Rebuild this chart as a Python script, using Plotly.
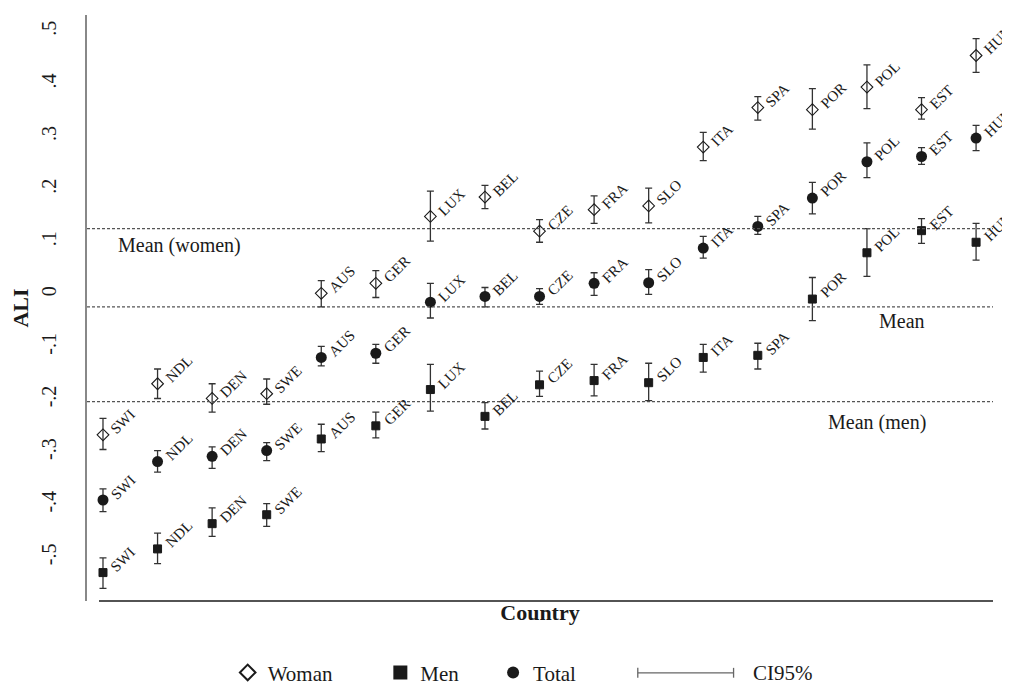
import plotly.graph_objects as go

countries = ["SWI", "NDL", "DEN", "SWE", "AUS", "GER", "LUX", "BEL", "CZE",
             "FRA", "SLO", "ITA", "SPA", "POR", "POL", "EST", "HUN"]

women = [-0.267, -0.170, -0.198, -0.189, 0.002, 0.021, 0.148, 0.185, 0.120,
         0.161, 0.168, 0.280, 0.355, 0.351, 0.394, 0.351, 0.454]
women_hi = [-0.236, -0.142, -0.170, -0.161, 0.026, 0.045, 0.196, 0.207, 0.142,
            0.187, 0.202, 0.308, 0.376, 0.391, 0.436, 0.374, 0.486]
women_lo = [-0.295, -0.198, -0.224, -0.209, -0.024, -0.006, 0.101, 0.163, 0.099,
            0.135, 0.136, 0.254, 0.331, 0.314, 0.353, 0.333, 0.422]

total = [-0.391, -0.318, -0.308, -0.297, -0.120, -0.112, -0.015, -0.004, -0.004,
         0.021, 0.022, 0.088, 0.129, 0.183, 0.252, 0.262, 0.297]
total_hi = [-0.370, -0.297, -0.290, -0.282, -0.099, -0.095, 0.021, 0.013, 0.011,
            0.041, 0.047, 0.110, 0.148, 0.213, 0.288, 0.279, 0.321]
total_lo = [-0.413, -0.338, -0.331, -0.316, -0.136, -0.131, -0.045, -0.024, -0.019,
            -0.002, 0.000, 0.069, 0.114, 0.153, 0.222, 0.247, 0.273]

men = [-0.529, -0.484, -0.436, -0.419, -0.275, -0.250, -0.181, -0.232, -0.172,
       -0.164, -0.168, -0.120, -0.116, -0.009, 0.079, 0.121, 0.099]
men_hi = [-0.501, -0.454, -0.406, -0.398, -0.247, -0.224, -0.133, -0.206, -0.146,
          -0.133, -0.131, -0.095, -0.093, 0.032, 0.125, 0.144, 0.135]
men_lo = [-0.559, -0.512, -0.460, -0.441, -0.299, -0.273, -0.222, -0.256, -0.194,
          -0.193, -0.202, -0.148, -0.142, -0.050, 0.034, 0.097, 0.065]

mean_labels = ["Mean (women)", "Mean", "Mean (men)"]
mean_values = [0.125, -0.024, -0.204]

ytick_vals = [-0.5, -0.4, -0.3, -0.2, -0.1, 0, 0.1, 0.2, 0.3, 0.4, 0.5]
ytick_text = ["-.5", "-.4", "-.3", "-.2", "-.1", "0", ".1", ".2", ".3", ".4", ".5"]

SERIF = "Liberation Serif"
INK = "#1a1a1a"
xs = list(range(1, len(countries) + 1))

# The page puts the figure 8px in from the window's top-left corner.
OFF = 8
W, H = 1010, 692
# plot area wanted in window pixels: x 85..993, y 15..611
ML, MT = 85 - OFF, 15 - OFF
MR = W - (993 - OFF)
MB = H - (611 - OFF)
PW, PH = W - ML - MR, H - MT - MB


def px(xwin):
    return (xwin - OFF - ML) / PW


def py(ywin):
    return (H - MB - (ywin - OFF)) / PH


fig = go.Figure()


def add_series(name, vals, hi, lo, symbol, size, lw, legend_id):
    fig.add_trace(go.Scatter(
        x=xs, y=vals, mode="markers", name=name, legend=legend_id,
        marker=dict(symbol=symbol, size=size, color=INK,
                    line=dict(color=INK, width=lw)),
        error_y=dict(type="data", symmetric=False,
                     array=[h - v for h, v in zip(hi, vals)],
                     arrayminus=[v - l for v, l in zip(vals, lo)],
                     color="#333333", thickness=1.3, width=3.5),
    ))


add_series("Woman", women, women_hi, women_lo, "diamond-open", 9, 1.1, "legend")
add_series("Men", men, men_hi, men_lo, "square", 8, 1, "legend2")
add_series("Total", total, total_hi, total_lo, "circle", 11, 0, "legend3")

annotations = []
for vals in (women, men, total):
    for x, v, c in zip(xs, vals, countries):
        annotations.append(dict(
            x=x, y=v, xref="x", yref="y", text=c, showarrow=False,
            textangle=-45, xanchor="left", yanchor="bottom",
            xshift=2, yshift=-5,
            font=dict(family=SERIF, size=15, color=INK)))

shapes = []
for v in mean_values:
    shapes.append(dict(type="line", xref="paper", yref="y", x0=0, x1=1,
                       y0=v, y1=v, line=dict(color="#555555", width=1.2, dash="3px,2px")))

# mean labels
annotations.append(dict(x=px(114), y=mean_values[0], xref="paper", yref="y",
                        text=mean_labels[0], showarrow=False, xanchor="left",
                        yanchor="top", yshift=-3,
                        font=dict(family=SERIF, size=20, color=INK)))
annotations.append(dict(x=px(927), y=mean_values[1], xref="paper", yref="y",
                        text=mean_labels[1], showarrow=False, xanchor="right",
                        yanchor="top", yshift=-1,
                        font=dict(family=SERIF, size=20, color=INK)))
annotations.append(dict(x=px(928), y=mean_values[2], xref="paper", yref="y",
                        text=mean_labels[2], showarrow=False, xanchor="right",
                        yanchor="top", yshift=-7,
                        font=dict(family=SERIF, size=20, color=INK)))

# x axis line (starts slightly right of the y axis)
shapes.append(dict(type="line", xref="paper", yref="paper", x0=px(97), x1=1,
                   y0=0, y1=0, line=dict(color=INK, width=1.3)))

# CI95% legend key
LY = 684
shapes.append(dict(type="line", xref="paper", yref="paper", x0=px(637), x1=px(733),
                   y0=py(LY), y1=py(LY), line=dict(color="#666666", width=1.3)))
for xx in (637, 733):
    shapes.append(dict(type="line", xref="paper", yref="paper", x0=px(xx), x1=px(xx),
                       y0=py(LY + 5), y1=py(LY - 5), line=dict(color="#666666", width=1.3)))
annotations.append(dict(x=px(750), y=py(LY), xref="paper", yref="paper", text="CI95%",
                        showarrow=False, xanchor="left", yanchor="middle",
                        font=dict(family=SERIF, size=21, color=INK)))

leg_common = dict(orientation="h", xanchor="left", yanchor="middle",
                  font=dict(family=SERIF, size=21, color=INK),
                  bgcolor="rgba(0,0,0,0)", borderwidth=0, itemsizing="constant")

fig.update_layout(
    width=W, height=H,
    margin=dict(l=ML, r=MR, t=MT, b=MB),
    paper_bgcolor="white", plot_bgcolor="white",
    font=dict(family=SERIF, size=18, color=INK),
    showlegend=True,
    legend=dict(x=px(226), y=py(LY), **leg_common),
    legend2=dict(x=px(379), y=py(LY), **leg_common),
    legend3=dict(x=px(492), y=py(LY), **leg_common),
    xaxis=dict(range=[0.707, 17.31], showticklabels=False, ticks="",
               showgrid=False, zeroline=False, showline=False,
               title=dict(text="<b>Country</b>", standoff=3,
                          font=dict(family=SERIF, size=22, color=INK))),
    yaxis=dict(range=[-0.583, 0.531], tickvals=ytick_vals, ticktext=ytick_text,
               tickangle=-90, ticks="outside", ticklen=21,
               tickcolor="rgba(0,0,0,0)", showgrid=False, zeroline=False,
               showline=True, linecolor="#888888", linewidth=1.6,
               tickfont=dict(family=SERIF, size=20, color=INK),
               title=dict(text="<b>ALI</b>", standoff=8,
                          font=dict(family=SERIF, size=22, color=INK))),
    shapes=shapes, annotations=annotations,
)

fig.write_html("out.html", config={"displayModeBar": False})
